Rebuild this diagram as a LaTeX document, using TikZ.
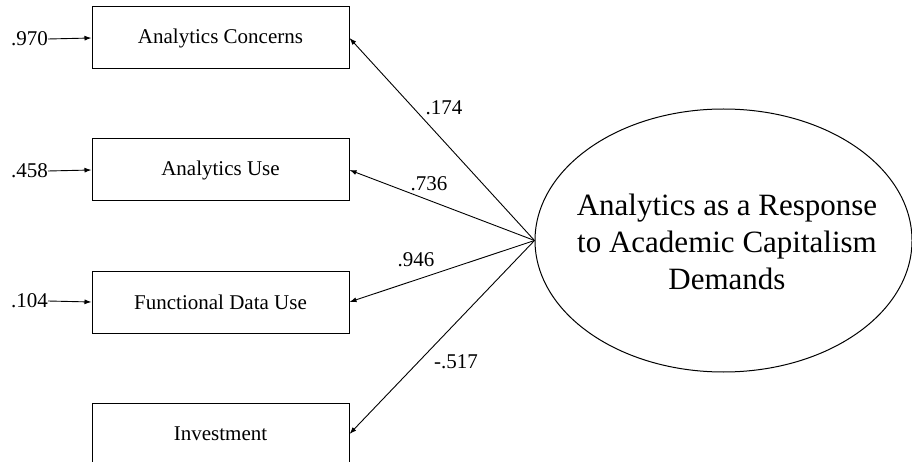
\documentclass[tikz,border=0pt]{standalone}
\usepackage{fontspec}
\setmainfont{Liberation Serif}
\usetikzlibrary{shapes.geometric,arrows.meta}
\begin{document}
\begin{tikzpicture}[x=1pt,y=-1pt,
  obs/.style={draw,line width=1pt,rectangle,minimum width=257pt,minimum height=62pt,inner sep=0pt,font=\fontsize{21}{25}\selectfont},
  lat/.style={draw,line width=1pt,ellipse,minimum width=377pt,minimum height=263pt,inner sep=0pt},
  lattext/.style={inner sep=0pt,align=center,font=\fontsize{31}{36.7}\selectfont},
  lab/.style={inner sep=0pt,font=\fontsize{21}{25}\selectfont},
  arr/.style={line width=0.9pt,-{Latex[length=7pt,width=5pt]}}]
\useasboundingbox (0,0) rectangle (912,462);
\clip (0,0) rectangle (912,462);
\node[obs] (c1) at (220.5,38) {Analytics Concerns};
\node[obs] (c2) at (220.5,170) {Analytics Use};
\node[obs] (c3) at (220.5,302) {Functional Data Use};
\node[obs] (c4) at (220.5,434) {Investment};
\node[lat] (f) at (723.5,240.5) {};
\node[lattext] (ft) at (727,242) {Analytics as a Response\\to Academic Capitalism\\Demands};
\node[lab,anchor=east] (e1) at (48,39) {.970};
\node[lab,anchor=east] (e2) at (48,171) {.458};
\node[lab,anchor=east] (e3) at (48,301) {.104};
\draw[arr] (e1.east) -- (c1.west);
\draw[arr] (e2.east) -- (c2.west);
\draw[arr] (e3.east) -- (c3.west);
\draw[arr] (f.west) -- (c1.east);
\draw[arr] (f.west) -- (c2.east);
\draw[arr] (f.west) -- (c3.east);
\draw[arr] (f.west) -- (c4.east);
\node[lab] (l1) at (444,108) {.174};
\node[lab] (l2) at (429,184) {.736};
\node[lab] (l3) at (416,260) {.946};
\node[lab] (l4) at (456,362) {-.517};
\end{tikzpicture}
\end{document}
